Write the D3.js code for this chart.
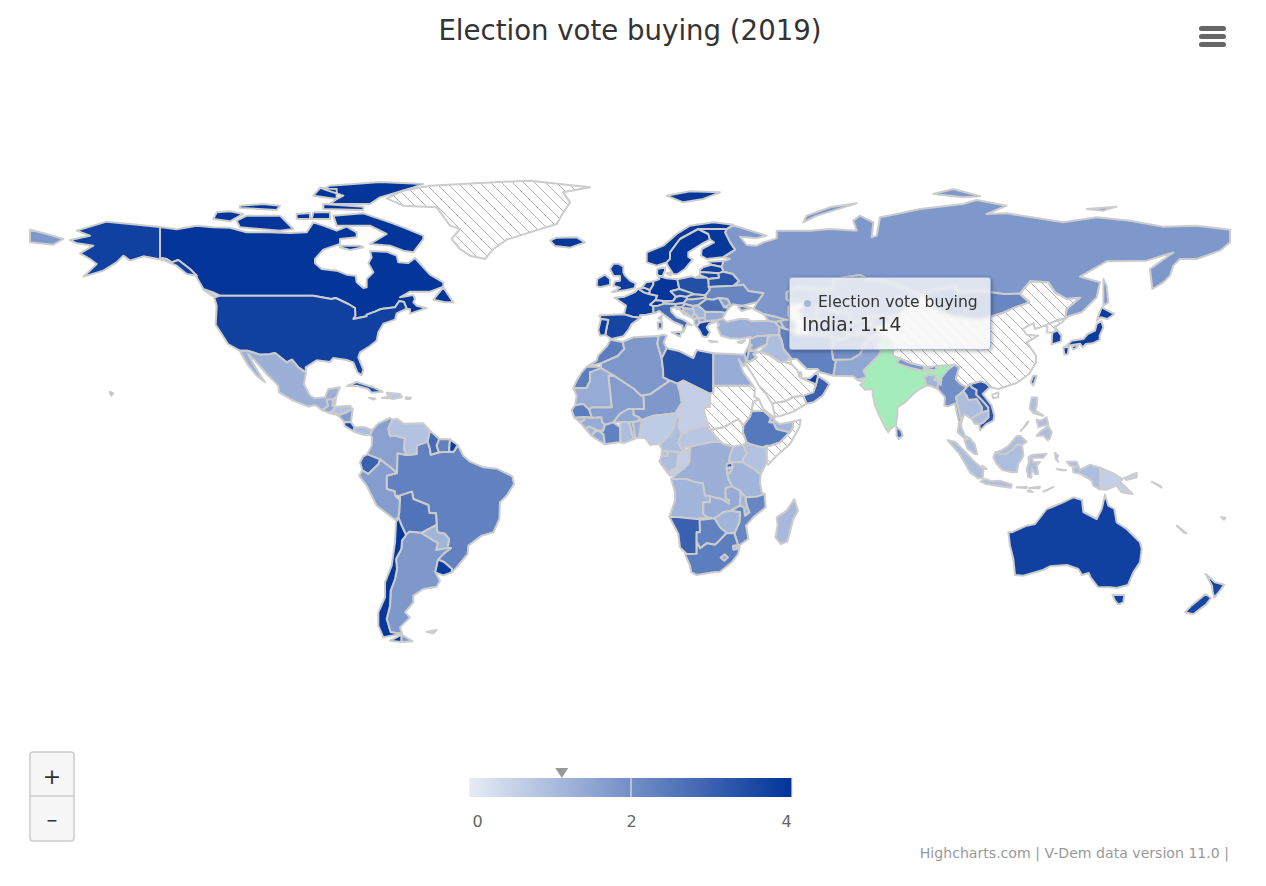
<!DOCTYPE html>
<html>
<head>
<meta charset="utf-8">
<script src="https://cdn.jsdelivr.net/npm/d3@7"></script>
<style>
  html, body { margin: 0; padding: 0; background: #fff; overflow: hidden; }
  #chart { position: relative; width: 1266px; height: 886px; font-family: "DejaVu Sans", sans-serif; }
  svg { display: block; }
  #tip {
    position: absolute; left: 789px; top: 277px; width: 200px; height: 71px;
    border: 1px solid #a3b3da; border-radius: 3px;
    background: rgba(247, 247, 247, 0.8);
    backdrop-filter: blur(1.5px);
    box-shadow: 1px 1px 4px rgba(0, 0, 0, 0.35);
    color: #333;
  }
  #tip .dot { position: absolute; left: 14px; top: 22px; width: 7px; height: 7px; border-radius: 50%; }
  #tip .s { position: absolute; left: 28px; top: 15px; font-size: 15.6px; white-space: nowrap; }
  #tip .v { position: absolute; left: 12px; top: 36px; font-size: 18.6px; white-space: nowrap; }
</style>
</head>
<body>
<div id="chart"><svg width="1266" height="886"></svg><div id="tip"><span class="dot"></span><span class="s"></span><span class="v"></span></div></div>
<script>
const titleText = "Election vote buying (2019)";
const seriesName = "Election vote buying";
const creditText = "Highcharts.com | V-Dem data version 11.0 |";
const legendTicks = [0, 2, 4];
const hoverCountry = "India";
const hoverValue = 1.14;

// values, null = no data (hatched)
const voteBuying = {
  Russia: 1.8, Canada: 3.95, USA: 3.7, Mexico: 1.3, Greenland: null, Brazil: 2.3, Argentina: 1.8, Australia: 3.7,
  China: null, India: 1.14, Kazakhstan: 1.7, Algeria: 1.8, DRC: 1.3, Saudi: null, Indonesia: 1.0,
  Libya: 3.4, Sudan: null, SouthSudan: null, Iran: 2.3, Mongolia: 2.2, Peru: 1.7, Chad: 0.6, Niger: 1.8, Angola: 1.2,
  Mali: 1.7, SouthAfrica: 2.4, Colombia: 1.6, Ethiopia: 2.5, Bolivia: 2.6, Mauritania: 1.4, Egypt: 1.4, Tanzania: 1.2,
  Nigeria: 0.7, Venezuela: 0.9, Namibia: 3.0, Mozambique: 2.2, Pakistan: 1.5, Turkey: 1.3, Chile: 3.9, Zambia: 1.4,
  Myanmar: 2.0, Afghanistan: 2.0, Somalia: null, Somaliland: 1.2, CAR: 0.8, Ukraine: 2.2, Madagascar: 1.1, Botswana: 2.3,
  Kenya: 0.9, France: 3.8, Yemen: null, Thailand: 1.0, Spain: 3.6, Turkmenistan: 1.8, Cameroon: 1.0, PNG: 0.6,
  Sweden: 3.95, Uzbekistan: 1.8, Morocco: 2.4, Iraq: 1.0, Paraguay: 1.2, Zimbabwe: 1.2, Japan: 3.8, Germany: 3.95,
  Congo: 0.6, Finland: 3.9, Vietnam: 3.3, Malaysia: 1.0, Norway: 3.9, CoteDIvoire: 2.3, Poland: 3.4, Oman: 3.0,
  Italy: 2.8, Philippines: 1.0, Ecuador: 3.0, BurkinaFaso: 1.5, NewZealand: 3.6, Gabon: 1.0, Guinea: 1.4, UK: 3.8,
  Uganda: 1.0, Ghana: 1.0, Romania: 2.7, Laos: 2.8, Guyana: 2.8, Belarus: 3.3, Kyrgyzstan: 1.8, Senegal: 2.4,
  Syria: 1.5, Cambodia: 1.0, Uruguay: 3.8, Suriname: 2.3, Tunisia: 1.8, Nepal: 1.8, Bangladesh: 1.2, Tajikistan: 1.8,
  Greece: 3.7, Nicaragua: 1.7, NorthKorea: null, Malawi: 1.2, Eritrea: null, Benin: 1.3, Honduras: 0.9, Liberia: 1.5,
  Bulgaria: 1.4, Cuba: 3.3, Guatemala: 1.5, Iceland: 3.9, SouthKorea: 3.7, Hungary: 2.5, Portugal: 3.8, Jordan: 1.8,
  Serbia: 1.2, Azerbaijan: 1.8, Austria: 3.6, UAE: 3.8, Czechia: 3.4, Panama: 1.0, SierraLeone: 1.2, Ireland: 3.8,
  Georgia: 1.5, SriLanka: 2.8, Lithuania: 3.6, Latvia: 3.7, Togo: 1.5, Croatia: 2.8, Bosnia: 1.2, CostaRica: 3.5,
  Slovakia: 3.1, DominicanRep: 0.8, Estonia: 3.9, Denmark: 3.9, Netherlands: 3.8, Switzerland: 3.9, Bhutan: 3.0,
  Taiwan: 3.0, GuineaBissau: 1.2, Moldova: 1.6, Belgium: 3.8, Lesotho: 1.4, Armenia: 2.0, Albania: 1.5, Burundi: 1.2,
  Haiti: 0.7, Rwanda: 3.2, NorthMacedonia: 1.5, Djibouti: 1.2, Belize: 0.9, ElSalvador: 1.4, Israel: 3.0, Slovenia: 3.0,
  EqGuinea: 1.0, Kuwait: null, Qatar: null, Swaziland: 1.2, Montenegro: 1.5, Lebanon: 2.5, Cyprus: 2.0, Jamaica: 1.2,
  PuertoRico: 0.3, Timor: 0.6, Solomon: 0.3, NewCaledonia: 0.2, Fiji: 0.3, Falkland: 0.5, FrenchGuiana: 3.8
};

// country outlines, lon,lat rings
const countryShapes = {
  Russia: ["28,59.4 30,60 28,60.5 31.5,62.8 30,65 28.5,68 29,69 31,70 33,69.5 41,67 38,66.2 33,66.7 35,64.2 38,64 40,65 44,66.2 44,68.5 54,68.5 60,69 68,68.5 67,71.5 69,73 73,71 72.5,66.5 74,67 75,72.5 80,73.5 87,75 100,76.5 104,77.7 113,76 107,73.5 113,73.7 130,71 140,72.5 150,71.5 160,69.7 170,70 180,68.8 180,65 177,62.5 170,60 165,60 163,58 162,55 160,53 156.7,51 156,57 163,62 155,59.5 143,59.3 135,54.7 141,53 140,48.5 135.5,44 132,43 130.7,42.3 130.7,43 131,45 135,48.4 131,48 127.5,50 125.5,53 120,53.3 117,49.6 112,49.5 106,50.3 98,50 98,52 92,50.7 87.8,49.2 85,50 83,51 77,53.3 71,54.2 69,55.2 61,54 61,51 55,51 50,51.5 47,50 47,48 49,46.5 47.5,45.6 47.5,43 48.5,41.8 46.5,41.8 43.5,42.7 40,43.5 37,45 38.2,47.1 40,49.7 35.5,50.4 34,52.3 31,52 32.7,53.4 30.8,55.5 28,56.2 27.5,57.6",
    "-180,68.8 -175,67.5 -170,66 -173,64.3 -180,65", "52,71 56,73 68,76.7 60,75.5 53,73", "91,79.5 100,78.5 105,78.8 97,81", "137,75 146,75.7 142,74.5",
    "142,54 143,52 143.5,47 142,46 142,50", "19.7,54.4 22.9,54.4 21,55.2"],
  Canada: ["-141,69.6 -136,68.9 -130,70 -125,69.5 -120,69.4 -115,68 -108,68 -102,67.8 -97,68 -95,71 -92,70 -88,68.5 -85,69.7 -82,68 -82,66.5 -87,66 -87,64.5 -92,62.8 -94.5,60 -94.5,58.7 -92.5,57 -88,56.5 -85,55.3 -82.3,55 -82,53 -80,51.3 -79,51.5 -79,54 -77,56 -78.5,58.7 -77.5,60.5 -78,62.4 -73,62.2 -70,61 -69.5,59 -66.5,58.8 -64.5,60.3 -62,57.5 -60,55.3 -56,53 -56,51.7 -60,50.2 -66,50.2 -69,48.5 -65,49.2 -64.5,48 -65,47 -64,46 -61,45.3 -64,44.3 -66,43.6 -66,44.9 -67,45.1 -67.8,47.1 -69.2,47.4 -70.5,45.5 -74.7,45 -76.5,44.2 -79,43.3 -79,42.8 -83,42 -82.4,43 -82.5,45.3 -84.5,46.5 -88.3,48.3 -89.6,48 -95,49 -123,49 -125,50 -128,51 -130,54.5 -130,55 -132,57 -135.5,59.7 -137.5,59 -139,60 -141,60.3",
    "-59,47.8 -56,51.5 -53,47 -55.5,47", "-128,50.8 -123.5,48.4 -125,48.8",
    "-62,66 -65,62 -68,62.5 -72,64 -78,64.5 -73,67.5 -78,70 -88,70 -89,73 -80,73.7 -72,71 -68,69.5 -62,67",
    "-117,69.5 -105,68.5 -101,69 -105,73 -115,73 -118,71.5", "-125,72 -120,71.3 -116,73.5 -120,74.3 -124,74",
    "-90,76.5 -78,76.5 -75,78.5 -65,81.5 -62,82.5 -75,83.1 -90,82 -92,81 -86,79 -88,78", "-92,75 -80,74.7 -80,75.7 -92,76.5",
    "-95,79 -88,78 -88,81 -93,81.3", "-117,75.3 -106,74.7 -105,76 -110,76.5 -117,76", "-95.5,72 -90,72 -90,74 -95,74",
    "-87,64 -81,64 -80,63.5 -84,62.7 -87,63.5", "-100,72 -96,72 -96,73.8 -100,73.5"],
  USA: ["-124.7,48.4 -123,49 -95,49 -89.6,48 -88.3,48.3 -84.5,46.5 -82.5,45.3 -82.4,43 -83,42 -79,42.8 -79,43.3 -76.5,44.2 -74.7,45 -70.5,45.5 -69.2,47.4 -67.8,47.1 -67,45.1 -70,43.7 -70.5,41.8 -74,40.6 -75.5,38 -76,35.5 -78,33.9 -81,32 -81.5,30.5 -80,26.8 -80.5,25.1 -81.8,26 -83,29 -85,29.7 -89,30.3 -90,29.1 -94,29.6 -97.3,27.5 -97.2,25.9 -99.5,27.5 -101.4,29.8 -103,29 -106.5,31.8 -108.2,31.4 -111,31.3 -114.8,32.5 -117.1,32.5 -120.6,34.5 -122.5,37.5 -124.3,40.3 -124,46",
    "-141,69.6 -141,60.3 -139,60 -137.5,59 -135.5,59.7 -132,57 -130,55 -133,55.5 -136,58 -140,59.7 -146,60.8 -150,59.5 -152,61 -154,59 -158,56.5 -164,54.7 -160,58.5 -162,60 -165,61.7 -161,64 -166,64.7 -168,65.7 -162,67 -166,68.5 -157,71.2 -150,70.5",
    "-156,20.2 -155,19.7 -155.6,19 -156,19.6"],
  Greenland: ["-73,78.2 -68,76 -58,75.5 -54,70 -51,69 -53.5,66 -51,63 -48,61 -43.5,60 -41,63 -37,65.8 -30,68 -22,70.5 -20,74 -18,77 -20,80 -12,81.5 -30,83.5 -45,82.8 -60,82 -68,80.5"],
  Mexico: ["-117.1,32.5 -114.8,32.5 -111,31.3 -108.2,31.4 -106.5,31.8 -103,29 -101.4,29.8 -99.5,27.5 -97.2,25.9 -97.8,22.5 -96,19 -94.5,18.2 -91.5,18.5 -90.5,21 -87,21.5 -88.2,18.5 -89.1,17.9 -91,17.8 -90.5,16 -92.2,14.6 -94.5,16.2 -96.5,15.7 -101,17.5 -105.3,20 -105.5,22 -109,25.5 -112.5,29.5 -114.7,31.7 -113,28.5 -110.5,24.5 -109.5,23 -112,25 -114.5,28 -116,30.5"],
  Guatemala: ["-92.2,14.6 -90.5,16 -91,17.8 -89.1,17.9 -89.2,15.9 -88.2,15.7 -89.3,14.4 -90.5,13.9"],
  Belize: ["-88.2,18.5 -89.1,17.9 -89.2,15.9 -88.4,16.5"],
  Honduras: ["-88.2,15.7 -84,16 -83.2,15 -85,14 -87.5,13 -89.3,14.4"],
  ElSalvador: ["-89.3,14.4 -87.5,13.4 -87.8,13.2 -90,13.7"],
  Nicaragua: ["-87.5,13 -85,14 -83.2,15 -83.7,11 -85.7,11.1"],
  CostaRica: ["-85.7,11.1 -83.7,11 -82.6,9.5 -83,8.3 -85.7,10"],
  Panama: ["-83,8.3 -82.6,9.5 -79.5,9.5 -77.3,8.7 -77.9,7.2 -80,7.3 -81.5,7.7"],
  Cuba: ["-84.9,21.9 -82,23.1 -77,21.5 -74.2,20.2 -77.6,19.9 -78.5,21 -82,22"],
  Jamaica: ["-78.3,18.4 -76.3,18.1 -77,17.8"],
  Haiti: ["-73,19.9 -71.7,19.8 -71.8,18.2 -74.4,18.3 -72.5,18.7"],
  DominicanRep: ["-71.7,19.8 -69,19.5 -68.4,18.6 -71,18 -71.8,18.2"],
  PuertoRico: ["-67.2,18.5 -65.7,18.4 -66,18 -67.2,18"],
  Brazil: ["-51.7,4.2 -50,1 -48,-0.8 -44,-2.5 -40,-2.9 -35.3,-5.2 -34.8,-7.5 -37,-11 -39,-13 -39.2,-18 -41,-22 -44.5,-23 -48.5,-26 -48.7,-28.5 -52,-32.5 -53.5,-34 -53.4,-33 -55.8,-30.9 -57.6,-30.2 -55.8,-28.3 -53.7,-26.7 -54.7,-26.7 -54.3,-24 -55.6,-22.4 -57.8,-22 -58,-19.8 -58.2,-16.3 -60.2,-16.2 -60.5,-13.8 -65,-12 -65.4,-9.8 -69,-11 -70.5,-11 -70.6,-9.7 -73,-9 -73,-5 -69.9,-4.2 -69.8,1.7 -67,1.2 -64,1.5 -64,4 -60.7,5.2 -60,3 -59.8,1.3 -57.3,2 -54.3,2.2 -52.9,2.2"],
  Colombia: ["-77.3,8.7 -75.5,10.7 -72,12.3 -71.3,11.8 -72.5,9 -72,7 -70,6.9 -67.5,6.2 -67.8,3 -67,1.2 -69.8,1.7 -69.9,-4.2 -72,-2.4 -75,-0.1 -78.8,1.4 -77.5,4 -77.4,6.5 -77.9,7.2"],
  Venezuela: ["-71.3,11.8 -70,12.1 -68,10.6 -62,10.7 -60,8.5 -60.7,5.2 -64,4 -64,1.5 -67,1.2 -67.8,3 -67.5,6.2 -70,6.9 -72,7 -72.5,9"],
  Guyana: ["-60,8.5 -57.2,6 -58,4 -57.3,2 -59.8,1.3 -60,3 -60.7,5.2"],
  Suriname: ["-57.2,6 -54,5.9 -54.3,2.2 -57.3,2 -58,4"],
  FrenchGuiana: ["-54,5.9 -51.7,4.2 -52.9,2.2 -54.3,2.2"],
  Ecuador: ["-78.8,1.4 -75,-0.1 -75.4,-1.5 -78.5,-4.5 -80.3,-3.4 -81,-1 -80,0.8"],
  Peru: ["-80.3,-3.4 -78.5,-4.5 -75.4,-1.5 -75,-0.1 -72,-2.4 -69.9,-4.2 -73,-5 -73,-9 -70.6,-9.7 -70.5,-11 -69,-12.5 -69.2,-16 -69.5,-17.5 -70.4,-18.3 -76,-14 -79,-8 -81.3,-5"],
  Bolivia: ["-69,-11 -65.4,-9.8 -65,-12 -60.5,-13.8 -60.2,-16.2 -58.2,-16.3 -58,-19.8 -62.6,-22.2 -64.3,-22 -66.2,-21.8 -67.2,-22.8 -68.5,-20 -69.5,-17.5 -69.2,-16 -69,-12.5"],
  Paraguay: ["-62.6,-22.2 -58,-19.8 -57.8,-22 -55.6,-22.4 -54.3,-24 -54.7,-26.7 -58.2,-27.3 -57.6,-25.3"],
  Argentina: ["-66.2,-21.8 -64.3,-22 -62.6,-22.2 -57.6,-25.3 -58.2,-27.3 -54.7,-26.7 -53.7,-26.7 -55.8,-28.3 -57.6,-30.2 -58.4,-34 -57,-36.5 -58,-38.3 -62,-39 -65,-41 -65,-43 -67.5,-46 -66,-47.5 -69,-50.5 -68.4,-52.4 -71.8,-52 -73,-48 -72,-44 -71.8,-39.5 -70.5,-36 -69.9,-33 -70.2,-30 -68.6,-27 -68.4,-24.5 -67.2,-22.8",
    "-68.6,-52.7 -65.2,-54.7 -68.6,-54.9"],
  Chile: ["-69.5,-17.5 -68.5,-20 -67.2,-22.8 -68.4,-24.5 -68.6,-27 -70.2,-30 -69.9,-33 -70.5,-36 -71.8,-39.5 -72,-44 -73,-48 -71.8,-52 -68.4,-52.4 -74,-53.5 -75.5,-50 -75.5,-46 -73.5,-41.5 -73.5,-37 -71.5,-32 -70.5,-25 -70.2,-19",
    "-68.6,-52.7 -68.6,-54.9 -72,-54.5 -70,-53.5"],
  Uruguay: ["-57.6,-30.2 -58.4,-34 -56,-34.9 -53.5,-34 -53.4,-33 -55.8,-30.9"],
  Falkland: ["-61,-51.8 -58,-51.3 -59,-52.3"],
  Iceland: ["-24,65.5 -22,66.4 -16,66.5 -13.5,65 -18,63.4 -22.5,63.9"],
  Ireland: ["-10,52 -9.8,54 -7.5,55.3 -6,54 -6,52.2 -9,51.5"],
  UK: ["-5.5,50 -1,50.7 1.4,51.2 1.7,52.7 0,53.5 -1.5,55 -2,56 -2,57.7 -3.5,58.6 -5,58.6 -6,57 -5,55 -3,54.9 -3,53.5 -4.5,53.3 -5,52 -3,51.4"],
  France: ["-1.8,43.4 -1.2,46 -4.7,48.4 -1.6,48.7 1.5,50.1 2.5,51.1 4.2,50 5.8,49.5 8.2,49 7.6,47.6 6,46.3 7,45.9 7,44.2 7.5,43.8 5,43.3 3,43.1 3.2,42.4 0.7,42.7", "8.6,42.3 9.5,43 9.4,41.5"],
  Spain: ["-9.2,43.1 -1.8,43.4 0.7,42.7 3.2,42.4 0.5,40.5 -0.3,39 -2,36.8 -5.5,36 -7.4,37.2 -7,39.5 -6.5,41.7 -8.7,42"],
  Portugal: ["-8.7,42 -6.5,41.7 -7,39.5 -7.4,37.2 -9,37 -9.5,38.7"],
  Belgium: ["2.5,51.1 4.2,51.4 6,50.7 5.8,49.5 4.2,50"],
  Netherlands: ["3.5,51.4 4.2,51.4 6,50.7 7,52.3 7,53.3 4.8,53"],
  Germany: ["6,50.7 7,52.3 7,53.3 8.8,54 8.6,54.9 11,54.2 14.2,53.9 14.8,51 12.2,50.3 13.8,48.7 13,47.5 10,47.3 7.6,47.6 8.2,49 5.8,49.5"],
  Switzerland: ["6,46.3 7.6,47.6 9.6,47.5 10.4,46.6 8.5,46 7,45.9"],
  Austria: ["9.6,47.5 10,47.3 13,47.5 13.8,48.7 15,49 17,48.7 17.1,48 16.1,46.8 13.7,46.5 10.4,46.8"],
  Italy: ["7,45.9 8.5,46 10.4,46.6 13.7,46.5 13.7,45.6 12.3,45.3 12.4,44.2 14,42.5 16,41.8 18.5,40.2 17,40.4 16.5,39.2 16,38 15.7,40 13,41.2 10.5,43 8.8,44.4 7.5,43.8 7,44.2", "12.5,38 15.5,38.2 15,36.7", "8.3,41 9.7,41 9.6,39.2 8.5,39"],
  Denmark: ["8.1,55.5 8.6,54.9 9.8,54.9 10.5,56.5 10.5,57.5 8.2,57", "11,55.7 12.5,56 12.2,55"],
  Norway: ["5,59 5,62 10,64 14,67.5 18,70 25,71 31,70.3 29,69 25.5,69 20.5,69 15,66 12,62 12,60 11,59 8,58", "11,79 16,77 22,78 27,80 18,80.3"],
  Sweden: ["11,59 12,60 12,62 15,66 20.5,69 23.5,67.5 24,65.8 21.5,64.5 17.5,62 17.5,60.6 18.8,59.8 16.5,57 14.3,55.5 13,55.4 11.3,58"],
  Finland: ["20.5,69 25.5,69 29,69 28.5,68 30,65 31.5,62.8 27.8,60.5 23,60 21.3,61 21.5,63 25.2,65 24,65.8 23.5,67.5"],
  Estonia: ["23.5,59.2 28,59.4 27.5,57.6 24.4,58.3"],
  Latvia: ["21,56.8 22,57.6 24.4,58.3 27.5,57.6 28,56.2 26.5,55.7 21,56.1"],
  Lithuania: ["21,56.1 26.5,55.7 26.7,54.4 23.5,54 22.9,54.4 21,55.2"],
  Poland: ["14.2,53.9 18.5,54.8 19.7,54.4 22.9,54.4 23.5,54 23.6,52.6 24,50.8 22.6,49.1 19,49.4 14.8,51"],
  Belarus: ["23.5,54 26.7,54.4 26.5,55.7 28,56.2 30.8,55.5 32.7,53.4 31,52 23.6,51.6 23.6,52.6"],
  Ukraine: ["24,50.8 23.6,51.6 31,52 34,52.3 35.5,50.4 40,49.7 38.2,47.1 35,46.3 33.5,46 36.5,45.3 33.5,44.4 32.5,45.5 33.5,46 30.8,46.4 29.7,45.3 28.2,45.5 30,46.5 29.2,48 26.6,48.3 24.9,47.8 22.9,48 22.6,49.1"],
  Moldova: ["26.6,48.3 29.2,48 30,46.5 28.2,45.5 28,46"],
  Romania: ["22.9,48 24.9,47.8 26.6,48.3 28,46 28.2,45.5 29.7,45.3 28.6,43.8 27,44.1 22.6,44.2 20.3,46.1"],
  Hungary: ["16.1,46.8 17.1,48 18.8,47.9 22.2,48.4 22.9,48 20.3,46.1 18.8,45.9 16.5,46.5"],
  Slovakia: ["17,48.7 19,49.4 22.6,49.1 22.2,48.4 18.8,47.9 17.1,48"],
  Czechia: ["12.2,50.3 14.8,51 19,49.6 17,48.7 15,49 13.8,48.7"],
  Slovenia: ["13.7,45.6 13.7,46.5 16.1,46.8 16.5,46.5 15.5,45.5"],
  Croatia: ["13.7,45.6 15.5,45.5 16.5,46.5 18.8,45.9 19,45 16,45.2 15.8,44.5 18.5,42.5 16,43.5 14.8,45.1 14,44.9"],
  Bosnia: ["16,45.2 19,45 19.3,43.6 18.5,42.5 15.8,44.5"],
  Serbia: ["18.8,45.9 20.3,46.1 22.6,44.2 22.4,42.3 20.7,42 19.3,43.6 19,45"],
  Montenegro: ["18.5,42.5 19.3,43.6 20.3,42.8 19.3,41.9"],
  Albania: ["19.3,41.9 20.5,42.3 20.9,40.9 20,39.7 19.3,40.5"],
  NorthMacedonia: ["20.5,42.2 22.4,42.3 23,41.3 20.9,40.9"],
  Bulgaria: ["22.6,44.2 27,44.1 28.6,43.8 27.7,42 26.3,41.7 23,41.3 22.4,42.3"],
  Greece: ["20,39.7 20.9,40.9 23,41.3 26.3,41.3 23.7,40.5 23,39.5 24,38 23,36.5 21.7,36.8 21,38.3", "23.6,35.5 26.3,35.2 24.5,35"],
  Turkey: ["26.3,41.7 28,42 29,41.2 33,42 35,42 36.5,41.3 41.5,41.5 43.5,41.1 44.8,39.7 44.8,37.2 42.4,37.1 38,36.8 36.7,36.2 36.2,36.6 33,36.1 30,36.2 27.3,37 26.2,39.5 26.7,40.3 26.3,40.6"],
  Cyprus: ["32.3,35 34.5,35.6 33.5,34.7"],
  Georgia: ["40,43.5 43.5,42.7 46.5,41.8 45,41.3 43.5,41.1 41.5,41.5"],
  Armenia: ["43.5,41.1 45,41.3 46.5,39 44.8,39.7"],
  Azerbaijan: ["45,41.3 46.5,41.8 48.5,41.8 50,40.3 49,38.4 46.5,39"],
  Kazakhstan: ["47,50 50,51.5 55,51 61,51 61,54 69,55.2 71,54.2 77,53.3 83,51 85,50 87.3,49 85.5,47 82.5,45.3 80,42.8 74.5,43 70.9,42.3 68,41 66,41 66,43.5 61,44.3 58.6,45.5 56,45 56,41.3 53,42 52.5,41.7 50.5,44.5 53,47 49,46.5 47,48"],
  Uzbekistan: ["56,45 58.6,45.5 61,44.3 66,43.5 66,41 68,41 70.9,42.3 73,40.8 71,40.2 68,38.5 67.5,37.2 66,37.4 62.5,39.5 60,42 56,41.3"],
  Turkmenistan: ["53,42 56,41.3 60,42 62.5,39.5 66,37.4 64.5,36 61,35.6 60,37 54,37.4 53,39.5"],
  Tajikistan: ["68,38.5 71,40.2 73.5,39.5 75,37.4 71.6,36.7 70,37.7 67.5,37.2"],
  Kyrgyzstan: ["70.9,42.3 74.5,43 80,42.8 76,40.4 73.5,39.5 71,40.2 73,40.8"],
  Mongolia: ["87.8,49.2 92,50.7 98,52 98,50 106,50.3 112,49.5 117,49.6 119.8,47 115.5,45.5 111.5,43.7 105,41.8 97,42.8 91,45.2 90.7,47"],
  China: ["73.5,39.5 76,40.4 80,42.8 82.5,45.3 85.5,47 87.3,49 87.8,49.2 90.7,47 91,45.2 97,42.8 105,41.8 111.5,43.7 115.5,45.5 119.8,47 117,49.6 120,53.3 125.5,53 127.5,50 131,48 135,48.4 131,45 130.7,43 130.7,42.3 128,41.5 124.4,40 121.5,39 121,40.8 117.8,39 119,37.3 122.5,37 119,35 121.8,31 121.8,29 119.7,25.5 116,22.8 110.5,21 108,21.6 106.7,22.8 105.3,23.3 102,22.4 101,21.5 99.2,22.5 97.7,24 98.7,27.5 97.3,28.3 91.7,27.8 88.8,27.5 86,28 81,30.2 78.8,31 79,33 78,35.5 75,37.4", "108.7,19.3 110.5,20 110.5,18.5 109,18.2"],
  Taiwan: ["121,25 122,25 121,22 120.2,23"],
  NorthKorea: ["124.4,40 128,41.5 130.7,42.3 129.7,41 127.5,39.7 128.3,38.6 126.7,37.9 125,38 125.3,39.5"],
  SouthKorea: ["126.7,37.9 128.3,38.6 129.4,37 129.3,35.3 126.5,34.4 126.6,37"],
  Japan: ["130.9,34 132.5,35.5 136,36 137.3,37.5 139.5,38.5 140,40.5 141.4,41.4 142,39.5 140.9,37 140.9,35.7 138.8,34.7 136.8,34.5 135.8,33.5 135,34.6 132.5,34.2", "140,41.5 141.5,45.5 145.3,43.5 143.2,42 141.2,42.5", "130,33.5 131.7,33.6 131.3,31.4 130.3,31.3", "132.5,33.8 134.5,34.2 134,33.4 133,32.8"],
  India: ["78,35.5 79,33 78.8,31 81,30.2 80,28.7 84,27.4 88,26.4 88.2,27.8 88.9,27.3 89,26.8 92,26.9 91.7,27.8 97.3,28.3 95.2,26.6 93.5,24.5 93.2,22.2 92.5,23.5 91.2,23.7 92,25 89.8,25.3 88.2,24.5 89,22 86.9,21 85,19.5 82.5,17 80.2,15.5 80.2,13 79.8,10.3 78,8.9 77.5,8 76.3,10 74.8,13 73.5,16 72.8,19.5 72.8,21 70.5,20.8 69,22.3 70.3,23 68.2,23.7 71,24.5 70,26.5 73,29.5 74.5,31 75.3,32.3 74,33.5 74.5,35 76,35.8"],
  Pakistan: ["61,25 61.7,29.5 60.9,29.8 66.3,29.9 69,31.5 70,33.7 71.5,36 74,37 76,35.8 74.5,35 74,33.5 75.3,32.3 74.5,31 73,29.5 70,26.5 71,24.5 68.2,23.7 67,24.8"],
  Afghanistan: ["60.5,33 61,35.6 64.5,36 66,37.4 67.5,37.2 70,37.7 71.6,36.7 75,37.4 74,37 71.5,36 70,33.7 69,31.5 66.3,29.9 60.9,29.8"],
  Iran: ["44.8,39.7 46.5,39 49,38.4 50,37.3 54,37.4 60,37 61,35.6 60.5,33 60.9,29.8 61.7,29.5 61,25 57,26 56.3,27 53,27 50,30 48.5,30 47.7,31 46,33 45.5,35.5 44.8,37.2"],
  Iraq: ["42.4,37.1 44.8,37.2 45.5,35.5 46,33 47.7,31 48.5,30 47.7,30 46.5,29.1 44.7,29.2 42,31.1 39,32.2 41,34.4 41.3,36.5"],
  Kuwait: ["47.7,30 48.2,29.5 48.4,28.5 46.5,29.1"],
  Syria: ["36.2,36.6 36.7,36.2 38,36.8 42.4,37.1 41.3,36.5 41,34.4 38.8,33.4 36.8,32.4 35.9,33.3 35.9,35"],
  Lebanon: ["35.9,34.6 36.6,34.2 35.8,33.3 35.1,33.1"],
  Israel: ["35.1,33.1 35.8,33.3 35.5,31.5 34.9,29.5 34.3,31.3"],
  Jordan: ["35.5,32.4 36.8,32.4 39,32.2 37,31.5 38,30.5 36,29.2 34.9,29.5 35.5,31.5"],
  Saudi: ["34.9,29.5 36,29.2 38,30.5 37,31.5 39,32.2 42,31.1 44.7,29.2 46.5,29.1 48.4,28.5 50.2,26.7 50.8,24.8 51.6,24.2 55.2,22.7 55.7,22 55,20 52,19 49,18.6 46.5,17.3 43.2,16.8 42.7,16.4 40.8,19.5 39,21.5 37,25 35,28"],
  Yemen: ["43.5,12.7 42.7,16.4 43.2,16.8 46.5,17.3 49,18.6 52,19 53,16.6 49,14.2 45,12.9"],
  Oman: ["52,19 55,20 55.7,22 56.4,24.9 58.5,23.6 59.8,22.4 57.8,19 55,17 53,16.6", "56.1,26 56.4,26.3 56.4,25.5"],
  UAE: ["51.6,24.2 54,24.2 56,26 56.4,24.9 55.7,22 55.2,22.7"],
  Qatar: ["50.8,24.8 51.5,25 51.3,26.1 50.8,26"],
  Bangladesh: ["88.2,24.5 89.8,25.3 92,25 91.2,23.7 92.5,23.5 92.3,21 90,22 89,22"],
  Nepal: ["80,28.7 81,30.2 84,28.8 88.2,27.8 88,26.4 84,27.4"],
  Bhutan: ["88.9,27.3 91.7,27.8 92,26.9 89,26.8"],
  Myanmar: ["92.5,23.5 93.2,22.2 93.5,24.5 95.2,26.6 97.3,28.3 98.7,27.5 97.7,24 99.2,22.5 101,21.5 100,20.4 97.8,18.5 98.5,15.3 99.5,11 98.7,11 98,14 97.5,16.7 95.5,15.8 94.3,16 94.5,18.5 92.3,21"],
  Thailand: ["97.8,18.5 100,20.4 101,19 101.5,17.7 104,18 105.6,15.5 105.6,14 102.5,12.2 102.9,11.7 101,13 100.3,13.5 99.3,11 99.5,9.2 100.5,7 102,6.2 101,6.7 100,6.5 98.3,8 98.7,11 99.5,11 98.5,15.3"],
  Laos: ["100,20.4 101,21.5 102,22.4 102.6,21.5 104,20.7 103.9,19.3 106,17.2 107.5,15.5 107.5,14.5 105.6,14 105.6,15.5 104,18 101.5,17.7 101,19"],
  Vietnam: ["102,22.4 105.3,23.3 106.7,22.8 108,21.6 105.8,19.5 108.5,16 109.3,13 109,11.5 106.8,10.4 105,8.6 104.8,10.4 106,11 107.5,12.5 107.5,14.5 107.5,15.5 106,17.2 103.9,19.3 104,20.7 102.6,21.5"],
  Cambodia: ["102.5,12.2 105.6,14 107.5,14.5 107.5,12.5 106,11 104.8,10.4 103.3,10.6"],
  Malaysia: ["100.3,6.5 101,5.8 102,6.2 103.4,4.5 104.2,1.4 103.4,1.5 101.3,3 100.4,5.5", "109.6,2 111.3,1.5 113,1.5 115,3 116,4.3 117.6,4.2 119,5.2 117,7 116,6.8 113.5,3.9 111.4,2.6"],
  Indonesia: ["95.3,5.6 97.5,5.2 100.5,2.2 103.5,-1 106,-3 105.8,-5.8 104.5,-5.8 102,-4 100.3,-1 98.7,1.7",
    "109.6,2 111.3,1.5 113,1.5 115,3 116,4.3 117.6,4.2 117.8,3 118,1 117.5,0 116.5,-1.5 116,-4 114.5,-4 111.7,-3.3 110,-1.5 109,0.5",
    "105.2,-6.8 106.5,-6 108.5,-6.7 111,-6.5 114.5,-7.7 114.3,-8.6 110,-8 106.5,-7.4",
    "119.5,0.5 120.5,1.2 125,1.6 124,0.4 120.5,0.4 121,-1 123,-0.9 122,-2 122.5,-4.5 121.5,-4.5 120.5,-2.8 120.4,-5.6 119.5,-5.4 119,-3 119.7,-1",
    "131,-0.8 134,-0.8 135,-3.3 138,-1.7 141,-2.6 141,-9.1 139,-8 138.5,-6.5 135,-4.4 133,-4 132.8,-2.8 134,-2.3 132,-2",
    "119.8,-8.7 123,-8.3 122.8,-8.8", "116,-8.5 119,-8.3 119,-8.8", "119.2,-9.6 120.8,-10 120,-9.4", "128,-3 130.8,-3.4 129.5,-3.4", "127.5,1.8 128.5,1 128,0 128.5,-0.8 127.7,0", "105.7,-2 107,-3 106,-3"],
  Timor: ["124,-9.8 127,-8.4 125,-9.4"],
  Philippines: ["120.5,18.5 122.2,18.4 122,16 121.6,14.5 124,13 123.5,13 121,13.8 120,15 120,16", "122,7 123.5,8.6 125.5,9.8 126.5,8 126,6.3 125.4,5.6 124,7", "117.2,8.4 119.5,11.3 119,10.4", "122,11.8 123.2,11.5 125,12.5 125.5,10.2 124,10 122.5,9.5"],
  PNG: ["141,-2.6 145,-4.3 147.8,-6 147,-6.8 150.8,-10.5 147.5,-10 146,-8 143,-9.2 141,-9.1", "148.3,-5.7 152,-4.2 152,-5.5 149,-6.3"],
  Solomon: ["156.5,-6.8 159,-8 159.5,-8.6"],
  SriLanka: ["79.9,9.7 81.3,8.5 81.8,7 80.6,6 80,7"],
  Australia: ["113.5,-22 114,-26 115,-30 115.5,-34.8 118,-35 123.9,-33.3 126,-32.2 131.1,-31.8 134.5,-33 135.6,-34.8 137.6,-34.2 138.2,-35.6 140.4,-38.4 144,-38.5 146,-38.7 149.4,-37.8 151,-34 153,-31 153.5,-27 153,-25 149,-21 146,-19 145.3,-15 143.5,-14 142.5,-10.7 141.5,-15 140,-18 136,-15.9 135.6,-12.3 133,-11.5 129.9,-13 126.6,-14.4 125,-15 121.5,-19.5 119,-20 114.5,-22"],
  Tasmania: ["144.7,-40.7 148.3,-40.8 148,-43 146.5,-43.6 145.5,-42.5"],
  NewZealand: ["172.7,-34.5 175.5,-37 178.3,-37.7 177,-39.5 175.3,-41.6 174.8,-39.8 174.6,-38", "172.7,-40.5 174.3,-41.7 172.8,-43.7 171,-45 169,-46.6 166.5,-46 168.4,-44"],
  NewCaledonia: ["164,-20 167,-22.3 166,-22"],
  Fiji: ["177.3,-17.5 178.6,-17.6 178.2,-18.2"],
  Morocco: ["-5.9,35.8 -2.2,35.1 -1.7,33 -3.7,30.9 -8.7,28.7 -13,27.7 -10,29.5 -9.6,31 -6.8,34", "-13,27.7 -8.7,27.7 -8.7,26 -12,26 -12,23.4 -13,21.3 -17,21.3 -16,23.5 -14.5,26"],
  Algeria: ["-2.2,35.1 1,36.5 8.6,36.9 8.2,34.5 9.5,30.2 9.9,27 10,24.5 12,23.5 6,19.4 3.3,19 1.2,21 -4.9,25 -8.7,27.3 -8.7,28.7 -3.7,30.9 -1.7,33"],
  Tunisia: ["8.6,36.9 10,37.3 11,37 10.1,35 11,33.2 9.5,30.2 8.2,34.5"],
  Libya: ["11,33.2 15,32.3 19,30.3 20,32.7 25,31.7 25,22 25,20 24,19.5 16,23.5 14.2,22.6 12,23.5 10,24.5 9.9,27 9.5,30.2"],
  Egypt: ["25,31.7 31,31.5 34.3,31.3 34.9,29.5 34.2,27.8 32.6,30 34,26 36.9,22 25,22"],
  Sudan: ["25,22 36.9,22 37.5,21 37.3,18.7 38.6,18 36.9,17 36.5,14.3 36,12.7 34,10 32.5,12 28,9.5 24,8.7 23.5,10 22.5,13 22,15.7 24,15.7 24,19.5 25,20"],
  SouthSudan: ["24,8.7 28,9.5 32.5,12 34,10 33.9,8 35,5 34,4.2 31,3.7 28,4.5 27.3,5"],
  Chad: ["14.2,22.6 16,23.5 24,19.5 24,15.7 22,15.7 22.5,13 23.5,10 19,9 15.5,7.5 14.5,10 15,12 14,13 13.6,13.7 15.5,16.9 15,20"],
  Niger: ["3.3,19 6,19.4 12,23.5 14.2,22.6 15,20 15.5,16.9 13.6,13.7 10,13.3 7,13 3.6,11.7 2.8,12.4 1,13.3 1,15 4.2,15 4,19"],
  Mali: ["-4.9,25 1.2,21 3.3,19 4,19 4.2,15 1,15 -0.5,15 -3,13.6 -5,11 -7.5,10.2 -8.3,11 -8.7,12.5 -11.4,12.3 -12.3,14.8 -11.5,15.5 -5.5,15.5 -6.5,25"],
  Mauritania: ["-17,21.3 -13,21.3 -12,23.4 -12,26 -8.7,27.3 -4.9,25 -6.5,25 -5.5,15.5 -11.5,15.5 -12.3,14.8 -14,16.5 -16.5,16.1 -16,19"],
  Senegal: ["-16.5,16.1 -14,16.5 -12.3,14.8 -11.4,12.3 -12.3,12.5 -16.7,12.4 -17.5,14.7"],
  GuineaBissau: ["-16.7,12.4 -13.7,12.6 -13.7,11.7 -15,11"],
  Guinea: ["-13.7,12.6 -11.4,12.3 -8.7,12.5 -8.3,11 -7.5,10.2 -8,8.5 -9.5,8.5 -10.5,9 -12.5,9.7 -13.3,9 -15,11 -13.7,11.7"],
  SierraLeone: ["-13.3,9 -12.5,9.7 -10.5,9 -10.7,8 -11.5,6.9"],
  Liberia: ["-11.5,6.9 -10.7,8 -9.5,8.5 -8,7.5 -7.5,4.4"],
  CoteDIvoire: ["-9.5,8.5 -8,8.5 -7.5,10.2 -5,11 -2.9,9.5 -2.9,5.1 -7.5,4.4 -8,7.5"],
  BurkinaFaso: ["-5,11 -3,13.6 -0.5,15 1,15 1,13.3 2.8,12.4 2.4,11.3 -0.2,11 -2.9,11"],
  Ghana: ["-2.9,11 -0.2,11 0.5,8 1.2,6 -2,4.7 -2.9,5.1 -2.9,9.5"],
  Togo: ["-0.2,11 0.9,11 1.6,6.2 1.2,6 0.5,8"],
  Benin: ["0.9,11 2.4,11.3 3.6,11.7 2.7,6.4 1.6,6.2"],
  Nigeria: ["2.7,6.4 3.6,11.7 7,13 10,13.3 13.6,13.7 14,12.5 13,9 11.5,6.7 8.8,4.5 6,4.3 4.5,6.3"],
  Cameroon: ["14,13 15,12 14.5,10 15.5,7.5 14.5,5 16,2 13,2.2 9.8,2.4 8.8,4.5 11.5,6.7 13,9"],
  CAR: ["14.5,5 15.5,7.5 19,9 23.5,10 24,8.7 27.3,5 25,5.2 19,4 16.6,3.5 16,2"],
  Congo: ["16,2 18,3.5 17.8,-1 16,-3 14,-4.5 12,-5 11.2,-4 14,-2.5 14.5,2 13,2.2"],
  Gabon: ["9.8,2.4 13,2.2 14.5,2 14,-2.5 11.2,-4 8.8,-0.8 9.5,1"],
  EqGuinea: ["9.5,2.2 11.3,2.2 11.3,1 9.5,1"],
  DRC: ["18,3.5 19,4 25,5.2 27.3,5 28,4.5 31,3.7 30,1 29.6,-1.4 29,-3 29.5,-6 30.7,-8.2 28.7,-8.7 28.7,-12 29.7,-12.2 29.7,-13.4 27.5,-12 25,-11.5 22.5,-11 21.8,-7.3 19.5,-7 17,-6 12.3,-6 14,-4.5 16,-3 17.8,-1"],
  Angola: ["12.3,-6 17,-6 19.5,-7 21.8,-7.3 22.5,-11 24,-11 24,-13 22,-13 22,-16.5 23.5,-17.6 20,-18 14,-17.4 11.8,-17.3 13.5,-12.5 13.5,-10"],
  Zambia: ["22,-13 24,-13 24,-11 25,-11.5 27.5,-12 29.7,-13.4 29.7,-12.2 28.7,-12 28.7,-8.7 30.7,-8.2 33,-9.5 33.2,-11 33,-14 30.3,-15.5 28,-16 25.3,-17.8 23.5,-17.6 22,-16.5"],
  Uganda: ["30,1 31,3.7 34,4.2 35,1.5 33.9,0 33.9,-1 30,-1 29.6,-1.4"],
  Kenya: ["34,4.2 35,5 36,4.5 39.5,3.5 41,4 41,-1 39.2,-4.7 37.5,-3.3 33.9,-1 33.9,0 35,1.5"],
  Tanzania: ["33.9,-1 37.5,-3.3 39.2,-4.7 39,-7 39.5,-10 40.4,-10.5 38,-11.3 34.6,-11.5 33,-9.5 30.7,-8.2 29.5,-6 29,-3 30.5,-2.5 30.5,-1"],
  Rwanda: ["29,-1.5 30.5,-1.1 30.8,-2.3 29,-2.8"],
  Burundi: ["29,-2.8 30.8,-2.5 30,-4.3 29.3,-4.4"],
  Eritrea: ["36.5,14.3 36.9,17 38.6,18 40,15 43,12.6 42.3,12.4 40,14.5"],
  Ethiopia: ["36,12.7 36.5,14.3 40,14.5 42.3,12.4 41.8,11 43,11 44,9 47.9,8 45,5 41.9,3.9 41,4 39.5,3.5 36,4.5 35,5 33.9,8 34,10"],
  Djibouti: ["42.3,12.4 43.3,12.5 43.3,11.5 43,11 41.8,11"],
  Somaliland: ["43,11 43.3,11.5 45,10.5 48.9,11.2 48.9,9.5 47.9,8 44,9"],
  Somalia: ["48.9,11.2 51.2,11.8 50.8,9.5 48,4.5 44,1 41.5,-1.7 41,-1 41,4 41.9,3.9 45,5 47.9,8 48.9,9.5"],
  Mozambique: ["40.4,-10.5 38,-11.3 34.6,-11.5 35,-14 35.8,-16 34.5,-17 34.3,-14.5 33,-14 30.3,-15.5 33,-16 32.8,-19 31.3,-22.3 32,-24.5 32.8,-26.8 32.9,-25.8 35.5,-24 35.2,-22 34.8,-20 37,-17.5 40.7,-14.5"],
  Malawi: ["33,-9.5 34.6,-11.5 35,-14 35.8,-16 34.5,-17 34.3,-14.5 33,-14 33.2,-11"],
  Zimbabwe: ["25.3,-17.8 28,-16 30.3,-15.5 33,-16 32.8,-19 31.3,-22.3 29,-22.2 27,-20.5"],
  Namibia: ["11.8,-17.3 14,-17.4 20,-18 23.5,-17.6 25.3,-17.8 23.4,-18 20.9,-18.3 21,-22 20,-22 20,-28.4 17,-28.5 15,-26.5 14.5,-22.5"],
  Botswana: ["20.9,-18.3 23.4,-18 25.3,-17.8 27,-20.5 29,-22.2 26.8,-24.5 25.5,-25.7 23,-25.3 21,-26.8 20,-24.8 20,-22 21,-22"],
  SouthAfrica: ["16.5,-28.6 17,-28.5 20,-28.4 20,-24.8 21,-26.8 23,-25.3 25.5,-25.7 26.8,-24.5 29,-22.2 31.3,-22.3 32,-24.5 32.8,-26.8 32.4,-28.5 30.5,-31 27,-33.8 25,-34 20,-34.8 18.4,-34 18,-32"],
  Lesotho: ["27.2,-29.6 28.5,-28.6 29.4,-29.5 28.3,-30.5"],
  Swaziland: ["30.9,-26 32,-25.9 32.1,-27 31,-27.2"],
  Madagascar: ["49.3,-12 50.4,-15.5 49,-18 47.2,-24.8 45.3,-25.5 43.6,-23.5 44.3,-20 44,-17.5 47,-15.5"]
};
voteBuying.Tasmania = voteBuying.Australia;

const svg = d3.select("svg");

// plain cylindrical map, 1200px across for 360 degrees
const projection = d3.geoEquirectangular()
  .scale(1200 / (2 * Math.PI))
  .translate([630, 459])
  .precision(0);

const color = d3.scaleLinear().domain([0, 4]).range(["#e6ebf5", "#003399"]);
const legendX = d3.scaleLinear().domain([0, 4]).range([470, 792]);

const defs = svg.append("defs");
const hatch = defs.append("pattern")
  .attr("id", "hatch")
  .attr("patternUnits", "userSpaceOnUse")
  .attr("width", 11)
  .attr("height", 11);
hatch.append("path")
  .attr("d", "M0,0L11,11M-1,10L1,12M10,-1L12,1")
  .attr("stroke", "#b4b4b4")
  .attr("stroke-width", 1);

const grad = defs.append("linearGradient").attr("id", "legendGrad");
grad.append("stop").attr("offset", "0%").attr("stop-color", color(0));
grad.append("stop").attr("offset", "100%").attr("stop-color", color(4));

function ringsToPath(rings) {
  return rings.map(r => {
    const pts = r.split(" ").map(p => projection(p.split(",").map(Number)));
    return "M" + pts.join("L") + "Z";
  }).join("");
}

const names = Object.keys(countryShapes);

svg.append("g").attr("class", "countries")
  .selectAll("path")
  .data(names)
  .join("path")
  .attr("d", d => ringsToPath(countryShapes[d]))
  .attr("fill", d => {
    if (d === hoverCountry) return "#a4edba";
    const v = voteBuying[d];
    return v === null || v === undefined ? "url(#hatch)" : color(v);
  })
  .attr("stroke", "#cccccc")
  .attr("stroke-width", 2)
  .attr("stroke-linejoin", "round");

// title
svg.append("text")
  .attr("x", 630)
  .attr("y", 40)
  .attr("text-anchor", "middle")
  .attr("font-size", 27.6)
  .attr("fill", "#333")
  .text(titleText);

// hamburger menu
svg.append("g").selectAll("rect")
  .data([0, 1, 2])
  .join("rect")
  .attr("x", 1199)
  .attr("y", i => 26 + i * 8)
  .attr("width", 27)
  .attr("height", 5)
  .attr("rx", 2.5)
  .attr("fill", "#666");

// zoom buttons
const zoomBtn = svg.append("g");
zoomBtn.append("rect")
  .attr("x", 30).attr("y", 752).attr("width", 44).attr("height", 89).attr("rx", 3)
  .attr("fill", "#f7f7f7").attr("stroke", "#ccc").attr("stroke-width", 1.5);
zoomBtn.append("line")
  .attr("x1", 30).attr("x2", 74).attr("y1", 796).attr("y2", 796)
  .attr("stroke", "#ccc").attr("stroke-width", 1.5);
zoomBtn.selectAll("text")
  .data(["+", "−"])
  .join("text")
  .attr("x", 52)
  .attr("y", (d, i) => i === 0 ? 784 : 825)
  .attr("text-anchor", "middle")
  .attr("font-size", (d, i) => i === 0 ? 22 : 14)
  .attr("font-weight", (d, i) => i === 0 ? "normal" : "bold")
  .attr("fill", "#333")
  .text(d => d);

// colour axis
const legend = svg.append("g");
legend.append("rect")
  .attr("x", legendX(0)).attr("y", 778)
  .attr("width", legendX(4) - legendX(0)).attr("height", 19)
  .attr("fill", "url(#legendGrad)");
legend.selectAll("line")
  .data(legendTicks)
  .join("line")
  .attr("x1", d => legendX(d)).attr("x2", d => legendX(d))
  .attr("y1", 778).attr("y2", 797)
  .attr("stroke", "#e6e6e6")
  .attr("stroke-width", 1.2);

const legendAxis = svg.append("g")
  .attr("transform", "translate(0,797)")
  .call(d3.axisBottom(legendX).tickValues(legendTicks).tickSize(0).tickPadding(19).tickFormat(d3.format("d")));
legendAxis.select(".domain").remove();
legendAxis.selectAll("text")
  .attr("font-family", "\"DejaVu Sans\", sans-serif")
  .attr("font-size", 16)
  .attr("fill", "#666")
  .attr("dx", d => d === 0 ? 7 : d === 4 ? -6 : 0);

// marker on colour axis for hovered value
const mx = legendX(hoverValue);
legend.append("path")
  .attr("d", d3.line()([[mx - 6.5, 768], [mx + 6.5, 768], [mx, 778]]) + "Z")
  .attr("fill", "#999");

// credits
svg.append("text")
  .attr("x", 1229)
  .attr("y", 858)
  .attr("text-anchor", "end")
  .attr("font-size", 14.1)
  .attr("fill", "#999")
  .text(creditText);

// tooltip
const tip = d3.select("#tip");
tip.select(".dot").style("background", color(hoverValue));
tip.select(".s").text(seriesName);
tip.select(".v").text(`${hoverCountry}: ${hoverValue}`);
</script>
</body>
</html>
